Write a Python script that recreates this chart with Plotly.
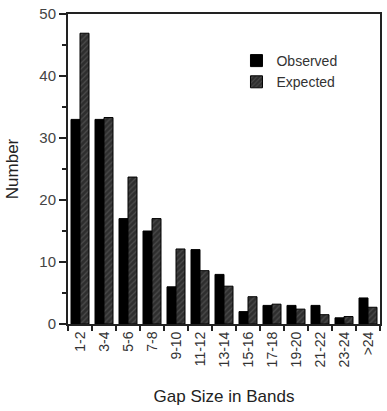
import plotly.graph_objects as go

categories = ["1-2", "3-4", "5-6", "7-8", "9-10", "11-12", "13-14",
              "15-16", "17-18", "19-20", "21-22", "23-24", ">24"]
observed = [33, 33, 17, 15, 6, 12, 8, 2, 3, 3, 3, 1, 4.2]
expected = [46.9, 33.3, 23.7, 17, 12.1, 8.6, 6.1, 4.4, 3.2, 2.4, 1.5, 1.2, 2.7]

font = "Liberation Sans, Arial, Helvetica, sans-serif"

fig = go.Figure()
fig.add_trace(go.Bar(
    x=categories, y=observed, name="Observed",
    marker=dict(color="#000000", line=dict(color="#000000", width=1)),
))
fig.add_trace(go.Bar(
    x=categories, y=expected, name="Expected",
    marker=dict(color="#3a3a3a", line=dict(color="#000000", width=1),
                pattern=dict(shape="/", fgcolor="#6a6a6a", bgcolor="#2e2e2e",
                             size=4, solidity=0.3)),
))

fig.update_layout(
    width=387, height=411,
    margin=dict(l=68, r=5, t=14, b=87),
    paper_bgcolor="white", plot_bgcolor="white",
    barmode="group", bargap=0.25, bargroupgap=0,
    font=dict(family=font, color="#333333", size=13),
    showlegend=True,
    legend=dict(x=0.54, y=0.90, xanchor="left", yanchor="top",
                bgcolor="rgba(0,0,0,0)", font=dict(size=14, color="#333333"),
                itemwidth=30, tracegroupgap=0),
)
fig.update_xaxes(
    type="category", tickangle=-90, tickson="boundaries",
    ticks="outside", ticklen=5, tickwidth=1.5, tickcolor="#222222",
    showline=True, linecolor="#222222", linewidth=2, mirror=True,
    showgrid=False,
    title=dict(text="Gap Size in Bands", font=dict(size=17, color="#222222"), standoff=24),
    tickfont=dict(size=14, color="#333333"),
)
fig.update_yaxes(
    range=[0, 50], tickvals=[0, 10, 20, 30, 40, 50],
    ticks="outside", ticklen=7, tickwidth=1.5, tickcolor="#222222",
    minor=dict(tickvals=[5, 15, 25, 35, 45], ticks="outside", ticklen=4,
               tickwidth=1.5, tickcolor="#222222", showgrid=False),
    showline=True, linecolor="#222222", linewidth=2, mirror=True,
    showgrid=False, zeroline=False,
    title=dict(text="Number", font=dict(size=17, color="#222222"), standoff=16),
    tickfont=dict(size=15, color="#444444"),
)

fig.write_html("out.html")
